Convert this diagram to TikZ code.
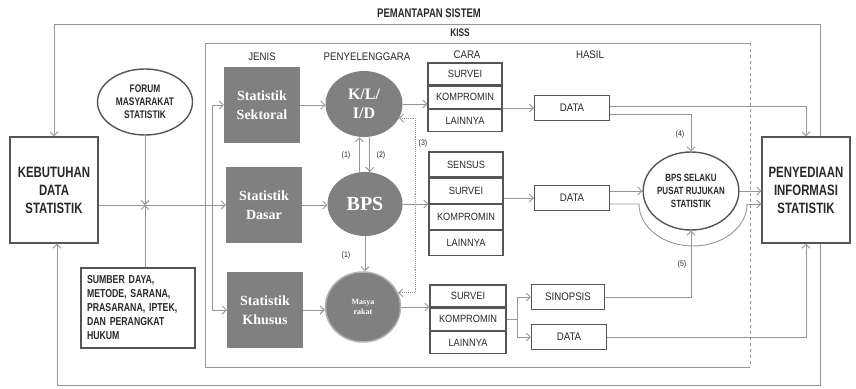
\documentclass[tikz,border=0pt]{standalone}
\usepackage{fontspec}
\usepackage{tikz}
\usetikzlibrary{shapes.geometric, arrows.meta, positioning}
\newfontfamily\narrowbf{Liberation Sans}[FakeStretch=0.76]
\newfontfamily\narrowrg{Liberation Sans}[FakeStretch=0.88]
\newfontfamily\serifj{Liberation Serif}
\definecolor{linegray}{RGB}{150,150,150}
\definecolor{boxgray}{RGB}{85,85,85}
\definecolor{fillgray}{RGB}{128,128,128}
\definecolor{textgray}{RGB}{40,40,40}
\tikzstyle{bigbox} = [rectangle, draw=boxgray, line width=1.4pt, minimum width=88pt, minimum height=106pt, align=center, text=textgray, font=\narrowbf\bfseries\fontsize{15}{18}\selectfont]
\tikzstyle{forum} = [ellipse, draw=boxgray, line width=1.4pt, minimum width=95pt, minimum height=66pt, inner sep=0pt, align=center, text=textgray, font=\narrowbf\bfseries\fontsize{11}{13}\selectfont]
\tikzstyle{sumberbox} = [rectangle, draw=boxgray, line width=1.4pt, text width=102pt, inner sep=6pt, minimum height=80pt, align=left, text=textgray, font=\narrowbf\bfseries\fontsize{11.5}{14}\selectfont]
\tikzstyle{jenis} = [rectangle, fill=fillgray, minimum width=76pt, minimum height=76pt, text=white, align=center, font=\serifj\bfseries\fontsize{14}{19}\selectfont]
\tikzstyle{penyel} = [ellipse, fill=fillgray, inner sep=0pt, text=white, align=center, font=\serifj\bfseries\fontsize{16}{19}\selectfont]
\tikzstyle{cara} = [rectangle, draw=boxgray, line width=1.2pt, minimum width=74pt, minimum height=22pt, inner sep=0pt, text=textgray, font=\narrowrg\fontsize{10.5}{12}\selectfont]
\tikzstyle{hasil} = [rectangle, draw=boxgray, line width=1.2pt, minimum width=75pt, minimum height=25pt, inner sep=0pt, text=textgray, font=\narrowrg\fontsize{11}{13}\selectfont]
\tikzstyle{pusat} = [ellipse, draw=boxgray, line width=1.4pt, fill=white, minimum width=93pt, minimum height=78pt, inner sep=0pt, align=center, text=textgray, font=\narrowbf\bfseries\fontsize{10.5}{13}\selectfont]
\tikzstyle{head} = [text=textgray, font=\narrowrg\fontsize{11}{13}\selectfont]
\tikzstyle{judul} = [text=textgray, font=\narrowbf\bfseries\fontsize{12.5}{15}\selectfont]
\tikzstyle{num} = [text=textgray, font=\narrowrg\fontsize{8}{9}\selectfont]
\tikzstyle{line} = [draw=linegray, line width=0.9pt]
\tikzstyle{arrow} = [draw=linegray, line width=0.9pt, >={Straight Barb[length=4pt,width=8pt]}, ->]

\begin{document}
\begin{tikzpicture}[x=1pt, y=-1pt]
		\useasboundingbox (0,0) rectangle (856,388);
		% frame of KISS
		\draw[line, line width=0.7pt] (750,43) -- (205,43) -- (205,367) -- (750,367);
		\draw[line, line width=0.7pt, dashed] (750,43) -- (750,367);

		\node (judul) [judul] at (429,13) {PEMANTAPAN SISTEM};
		\node (kiss) [judul, font=\narrowbf\bfseries\fontsize{11}{13}\selectfont] at (460,33) {KISS};
		\node (hjenis) [head] at (262,57) {JENIS};
		\node (hpeny) [head] at (367,57) {PENYELENGGARA};
		\node (hcara) [head] at (467,55) {CARA};
		\node (hhasil) [head] at (590,55) {HASIL};

		\node (keb) [bigbox] at (54,190) {KEBUTUHAN\\DATA\\STATISTIK};
		\node (forum) [forum] at (145,102) {FORUM\\MASYARAKAT\\STATISTIK};
		\node (sumber) [sumberbox] at (138,308) {SUMBER DAYA,\\METODE, SARANA,\\PRASARANA, IPTEK,\\DAN PERANGKAT\\HUKUM};
		\node (peny) [bigbox] at (806,190) {PENYEDIAAN\\INFORMASI\\STATISTIK};

		\node (sektoral) [jenis] at (262,105) {Statistik\\Sektoral};
		\node (dasar) [jenis] at (264,205) {Statistik\\Dasar};
		\node (khusus) [jenis] at (265,310) {Statistik\\Khusus};

		\node (kld) [penyel, minimum width=77pt, minimum height=66pt] at (364,104) {K/L/\\I/D};
		\node (bps) [penyel, minimum width=75pt, minimum height=64pt, font=\serifj\bfseries\fontsize{20}{22}\selectfont] at (365,204) {BPS};
		\node (mas) [penyel, minimum width=75pt, minimum height=70pt, draw=gray!60, line width=1.5pt, font=\serifj\bfseries\fontsize{8}{10}\selectfont] at (363,307) {Masya\\rakat};

		\node (sv1) [cara] at (465,74) {SURVEI};
		\node (km1) [cara, below=0pt of sv1] {KOMPROMIN};
		\node (ln1) [cara, below=0pt of km1] {LAINNYA};

		\node (ss2) [cara, minimum height=25pt] at (466,164.5) {SENSUS};
		\node (sv2) [cara, minimum height=25pt, below=0pt of ss2] {SURVEI};
		\node (km2) [cara, minimum height=25pt, below=0pt of sv2] {KOMPROMIN};
		\node (ln2) [cara, minimum height=25pt, below=0pt of km2] {LAINNYA};

		\node (sv3) [cara, minimum width=76pt] at (468,296) {SURVEI};
		\node (km3) [cara, minimum width=76pt, below=0pt of sv3] {KOMPROMIN};
		\node (ln3) [cara, minimum width=76pt, below=0pt of km3] {LAINNYA};

		\node (data1) [hasil] at (572,108) {DATA};
		\node (data2) [hasil] at (572,198) {DATA};
		\node (sinopsis) [hasil, minimum width=73pt] at (568,297) {SINOPSIS};
		\node (data3) [hasil] at (569,337) {DATA};

		\node (rujukan) [pusat] at (691,191) {BPS SELAKU\\PUSAT RUJUKAN\\STATISTIK};

		\node (n1a) [num] at (346,155) {(1)};
		\node (n2) [num] at (381,155) {(2)};
		\node (n1b) [num] at (346,255) {(1)};
		\node (n3) [num] at (423,143) {(3)};
		\node (n4) [num] at (680,134) {(4)};
		\node (n5) [num] at (682,264) {(5)};

		\coordinate (junc) at (145,205);
		\coordinate (cabang) at (212,205);
		\coordinate (dot3) at (415,205);
		\coordinate[right=11pt of km3.east] (fork);
		\coordinate (arcL) at (639,204);
		\coordinate (arcR) at (747,204);
		\coordinate (loopT) at (54,24);
		\coordinate (loopB) at (57,385);

		% Draw edges
		\draw[arrow] ([xshift=14pt]peny.north) |- (loopT) -- (keb.north);
		\draw[arrow] ([xshift=14pt]peny.south) |- (loopB) -- (loopB |- keb.south);
		\draw[arrow] (forum.south) -- (junc);
		\draw[arrow] (sumber.north -| junc) -- (junc);
		\draw[arrow] (keb.east |- dasar.west) -- (dasar.west);
		\draw[arrow] (cabang) |- (sektoral.west);
		\draw[arrow] (cabang) |- (khusus.west);

		\draw[arrow] (sektoral.east) -- (sektoral.east -| kld.west);
		\draw[arrow] (dasar.east) -- (dasar.east -| bps.west);
		\draw[arrow] (khusus.east) -- (khusus.east -| mas.west);

		\draw[arrow] (bps.100) -- (bps.100 |- kld.south);
		\draw[arrow] (kld.280) -- (kld.280 |- bps.north);
		\draw[arrow] (bps.south) -- (bps.south |- mas.north);
		\draw[arrow, <->, densely dotted] (kld.-22) -- (kld.-22 -| dot3) -- (mas.22 -| dot3) -- (mas.22);

		\draw[arrow] (kld.east) -- (kld.east -| km1.west);
		\draw[arrow] (bps.east) -- (bps.east -| sv2.west);
		\draw[arrow] (mas.east) -- (mas.east -| km3.west);

		\draw[arrow] (data1.west -| km1.east) -- (data1.west);
		\draw[arrow] (data2.west -| sv2.east) -- (data2.west);
		\draw[line] (km3.east) -- (fork);
		\draw[arrow] (fork) |- (sinopsis.west);
		\draw[arrow] (fork) |- (data3.west);

		\draw[arrow] ([yshift=2pt]data1.east) -| (peny.north);
		\draw[arrow] ([yshift=-6pt]data1.east) -| (rujukan.north);
		\draw[arrow] (data2.east |- rujukan.west) -- (rujukan.west);
		\draw[line] ([yshift=-6pt]data2.east) -- (arcL) arc[start angle=180, end angle=360, x radius=54pt, y radius=42pt];
		\draw[arrow] (arcR) -- (arcR -| peny.west);
		\draw[arrow] (rujukan.east) -- (rujukan.east -| peny.west);
		\draw[arrow] (sinopsis.east) -| (rujukan.south);
		\draw[arrow] (data3.east) -| (peny.south);

\end{tikzpicture}
\end{document}
